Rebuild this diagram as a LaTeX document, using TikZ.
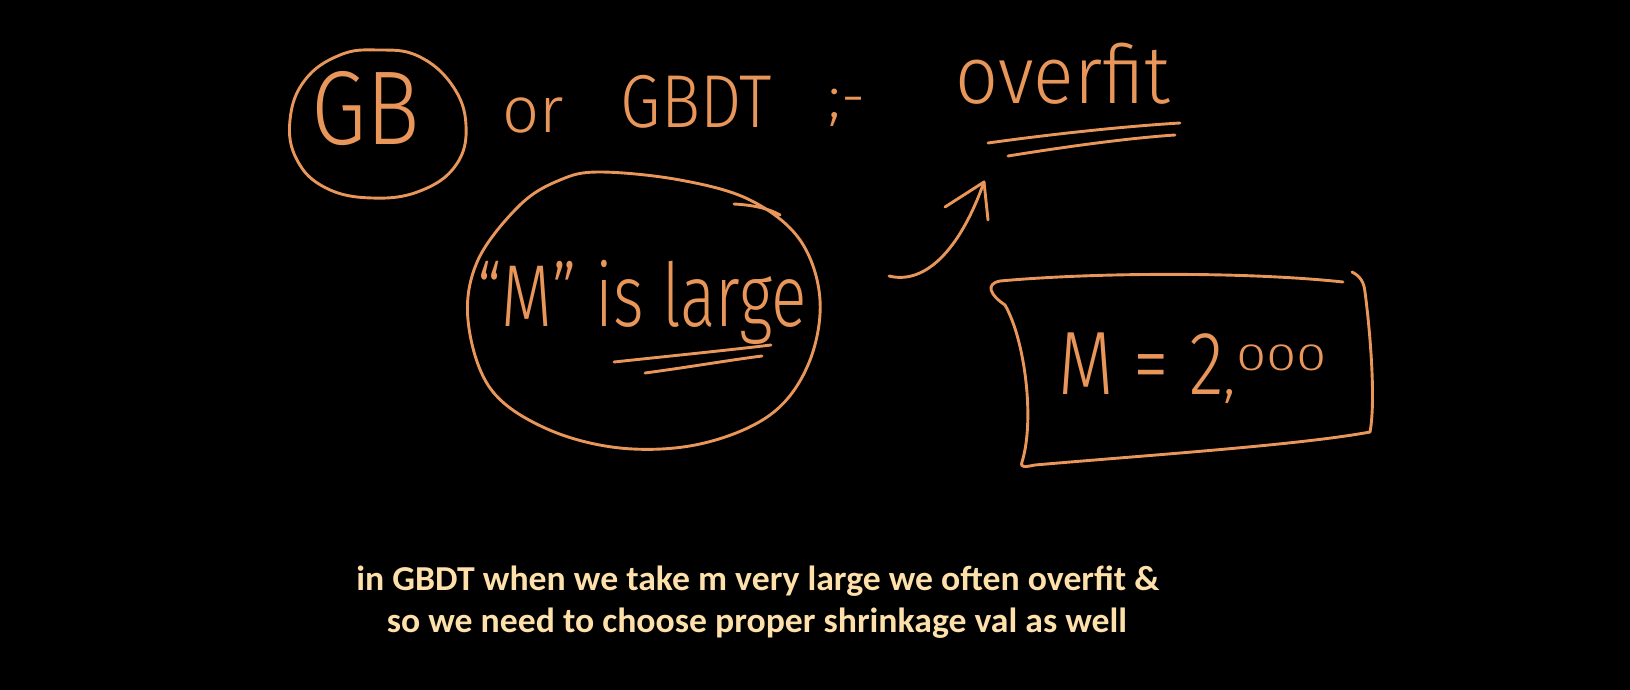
\documentclass[tikz,border=0pt]{standalone}
\usepackage{graphicx}
\usepackage{fontspec}
\setmainfont{Carlito}
\newfontfamily\hand{Fira Sans Light}
\definecolor{ink}{RGB}{232,150,90}
\definecolor{capc}{RGB}{253,224,170}
\newcommand{\hfs}[1]{\fontsize{#1}{#1}\selectfont}
\begin{document}
\begin{tikzpicture}[x=1pt,y=-1pt,
  hw/.style={font=\hand, text=ink, inner sep=0pt},
  stroke/.style={draw=ink, line width=2.9pt, line cap=round, line join=round},
  captxt/.style={font=\bfseries\hfs{35}, text=capc, inner sep=0pt}]
\fill[black] (0,0) rectangle (1630,690);
\useasboundingbox (0,0) rectangle (1630,690);

% ---- top line ----
\node[hw] (gb) at (366,109) {\scalebox{.85}[1]{\hfs{105}GB}};
\node[hw] (or) at (533,116) {\hfs{65}or};
\node[hw] (gbdt) at (696,102) {\scalebox{.87}[1]{\hfs{75}GBDT}};
\node[hw] (sep) at (847,108) {\hfs{60};-};
\node[hw, anchor=base] (overfit) at (1063,104) {\scalebox{1.02}[1.1]{\hfs{74}overfit}};

% circle round GB
\draw[stroke] plot[smooth cycle, tension=0.7] coordinates {
  (378,50) (418,56) (452,85) (466,125) (456,165) (420,191) (372,198)
  (326,188) (297,160) (290,120) (305,80) (340,55)};

% underlines of overfit
\draw[stroke] (988,143) .. controls (1060,133) and (1130,126) .. (1180,123);
\draw[stroke] (1008,156) .. controls (1070,146) and (1130,138) .. (1175,135);

% ---- "M" is large ----
\node[hw, anchor=base] (mlarge) at (642,326) {\scalebox{.75}[1]{\hfs{88}“M” is large}};
\draw[stroke] plot[smooth cycle, tension=0.6] coordinates {
  (600,172) (680,180) (750,200) (800,240) (820,300) (808,365) (770,415)
  (700,444) (620,448) (545,428) (490,388) (468,320) (478,260) (520,205) (560,180)};
\draw[stroke] (734,204) .. controls (752,205) and (768,208) .. (780,215);
% underlines of large
\draw[stroke] (614,362) .. controls (670,356) and (730,350) .. (771,345);
\draw[stroke] (645,373) .. controls (690,367) and (730,360) .. (762,356);

% ---- arrow ----
\coordinate (astart) at (889,276);
\coordinate (atip) at (984,182);
\draw[stroke] (astart) .. controls (925,285) and (960,250) .. (atip);
\draw[stroke] (945,207) -- (atip) -- (988,220);

% ---- M = 2,000 box ----
\draw[stroke] (1343,282) .. controls (1250,272) and (1100,272) .. (1000,281)
  .. controls (985,284) and (990,295) .. (1005,305)
  .. controls (1025,340) and (1035,420) .. (1022,462)
  .. controls (1020,468) and (1025,467) .. (1035,465)
  .. controls (1150,455) and (1300,445) .. (1370,432);
\draw[stroke] (1352,272) .. controls (1360,276) and (1364,282) .. (1365,292)
  .. controls (1370,330) and (1376,400) .. (1370,432);
\node[hw, anchor=base west] (mval) at (1058,394)
  {\scalebox{.8}[1]{\hfs{90}M = 2}\hfs{60},\raisebox{24pt}{\scalebox{1.45}[1]{\hfs{38}000}}};

% ---- caption ----
\node[captxt, anchor=base] (cap1) at (758,590) {\scalebox{1.02}[1]{in GBDT when we take m very large we often overfit \&}};
\node[captxt, anchor=base] (cap2) at (757,632) {\scalebox{1.02}[1]{so we need to choose proper shrinkage val as well}};
\end{tikzpicture}
\end{document}
